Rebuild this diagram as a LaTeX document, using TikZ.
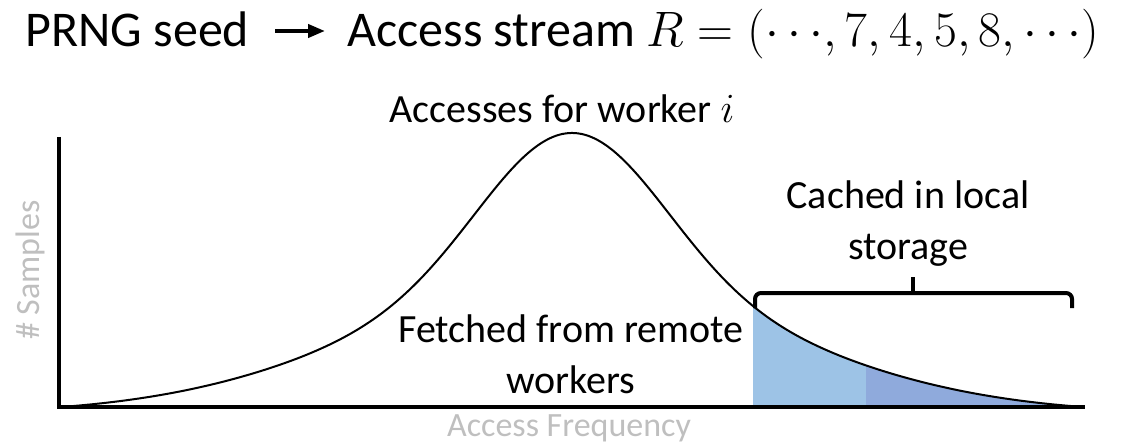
\documentclass[tikz,border=0pt]{standalone}
\usepackage{amsmath}
\usepackage{fontspec}
\setmainfont{Carlito}
\usepackage{tikz}
\usetikzlibrary{arrows.meta}
\usetikzlibrary{positioning}

\definecolor{axisgray}{HTML}{BFBFBF}
\definecolor{cacheA}{HTML}{9DC3E6}
\definecolor{cacheB}{HTML}{8FAADC}

\begin{document}
\begin{tikzpicture}[x=0.5pt, y=0.5pt,
  % bell shaped access curve (x and y in px, axis at y=38)
  declare function={bellh(\t) = 38 + 274*(0.55*exp(-0.5*((\t-572)/90)*((\t-572)/90)) + 0.45*exp(-0.5*((\t-572)/210)*((\t-572)/210)) - 0.0233)/0.9767;},
  head/.style={font=\fontsize{25}{30}\selectfont, inner sep=0pt},
  txt/.style={font=\fontsize{20}{25.5}\selectfont, align=center, inner sep=0pt},
  axisname/.style={font=\fontsize{17}{20}\selectfont, text=axisgray, inner sep=0pt},
  axisline/.style={line width=2pt},
  flow/.style={line width=2pt, -{Triangle[length=8.5pt, width=6.5pt]}},
  brace/.style={line width=2pt, rounded corners=3pt}]
 \useasboundingbox (0,0) rectangle (1138,445);

 \node[name=seed, head, anchor=base west] at (25,398) {PRNG seed};
 \node[name=stream, head, anchor=base west] at (347,398) {Access stream $R = (\mathord{\cdots}, 7, 4, 5, 8, \mathord{\cdots})$};
 \node[name=worker, head, font=\fontsize{20}{24}\selectfont, anchor=base] at (562,322) {Accesses for worker $i$};
 \draw[flow] ([xshift=13pt, yshift=8pt]seed.base east) -- ([xshift=-11pt, yshift=8pt]stream.base west);

 % cached tail under the curve
 \begin{scope}
  \clip plot[domain=61:1083, samples=160] (\x, {bellh(\x)}) -- cycle;
  \fill[cacheA] (753,38) rectangle (866,320);
  \fill[cacheB] (866,38) rectangle (1090,320);
 \end{scope}
 \draw[line width=1pt] plot[domain=61:1083, samples=160, smooth] (\x, {bellh(\x)});

 % axes
 \draw[axisline] (59,308) -- (59,38) -- (1085,38);
 \node[name=xname, axisname, anchor=base] at (569,9) {Access Frequency};
 \node[name=yname, axisname, anchor=base, rotate=90] at (39,175) {\# Samples};

 \node[name=remote, txt] at (571,91) {Fetched from remote\\workers};
 \node[name=local, txt] at (908,221) {Cached in local\\storage};
 \draw[brace] (755,137) -- (755,152) -- (1072,152) -- (1072,137);
 \draw[brace] (913,152) -- (913,168);
\end{tikzpicture}
\end{document}
